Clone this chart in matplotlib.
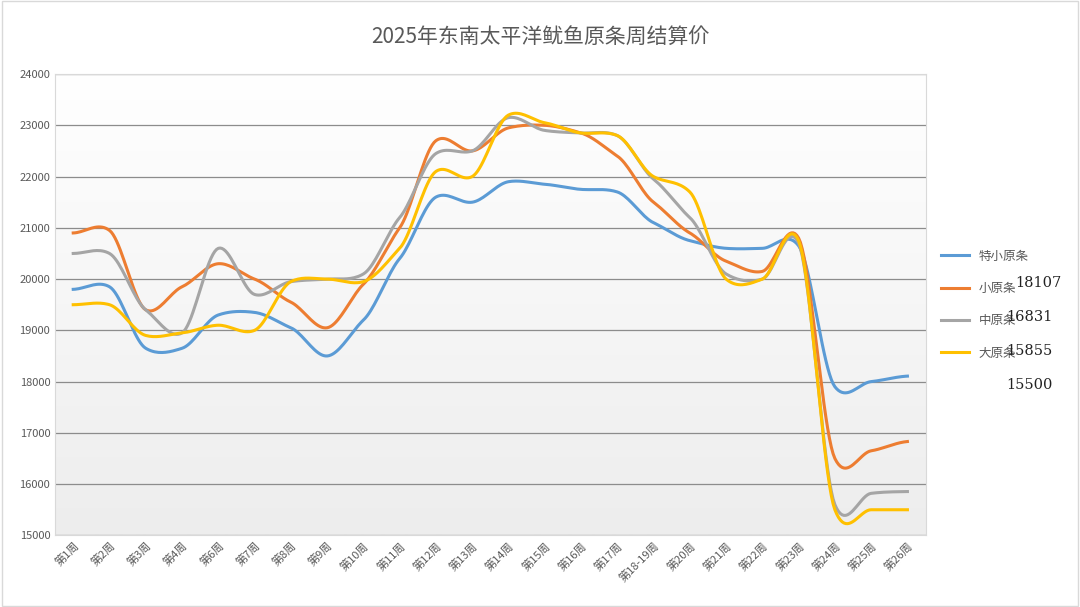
import numpy as np
import matplotlib.pyplot as plt
from matplotlib import font_manager

cjk = [f.name for f in font_manager.fontManager.ttflist if "CJK" in f.name]
plt.rcParams["font.family"] = ["Noto Sans CJK SC", "Noto Sans CJK JP"] + cjk + ["DejaVu Sans"]

weeks = ["第1周", "第2周", "第3周", "第4周", "第6周", "第7周", "第8周", "第9周", "第10周",
         "第11周", "第12周", "第13周", "第14周", "第15周", "第16周", "第17周", "第18-19周",
         "第20周", "第21周", "第22周", "第23周", "第24周", "第25周", "第26周"]
tiny = [19800, 19850, 18650, 18650, 19300, 19350, 19050, 18500, 19200, 20400, 21600, 21500,
        21900, 21850, 21750, 21700, 21100, 20750, 20600, 20600, 20650, 17900, 18000, 18107]
small = [20900, 20950, 19400, 19850, 20300, 20000, 19550, 19050, 19900, 21000, 22700, 22500,
         22950, 23000, 22850, 22400, 21500, 20900, 20350, 20150, 20800, 16500, 16650, 16831]
medium = [20500, 20500, 19400, 18950, 20600, 19700, 19950, 20000, 20100, 21200, 22450, 22500,
          23150, 22900, 22850, 22800, 21950, 21200, 20100, 20000, 20700, 15600, 15820, 15855]
large = [19500, 19500, 18900, 18950, 19100, 19000, 19950, 20000, 19950, 20600, 22100, 22000,
         23200, 23050, 22850, 22800, 22000, 21700, 20000, 20000, 20750, 15500, 15500, 15500]
names = ["特小原条", "小原条", "中原条", "大原条"]
last = ["18107", "16831", "15855", "15500"]
colors = ["#5B9BD5", "#ED7D31", "#A5A5A5", "#FFC000"]


def smooth(y, n=20, k=0.35):
    # cardinal spline, close to Excel's smoothed line
    y = np.asarray(y, float)
    p = np.concatenate([[y[0]], y, [y[-1]]])
    xs, ys = [], []
    for i in range(len(y) - 1):
        p0, p1, p2, p3 = p[i], p[i + 1], p[i + 2], p[i + 3]
        t = np.linspace(0, 1, n, endpoint=False)
        m1 = (p2 - p0) * k
        m2 = (p3 - p1) * k
        h = (2*t**3 - 3*t**2 + 1) * p1 + (t**3 - 2*t**2 + t) * m1 \
            + (-2*t**3 + 3*t**2) * p2 + (t**3 - t**2) * m2
        xs.append(i + t)
        ys.append(h)
    xs.append([len(y) - 1])
    ys.append([y[-1]])
    return np.concatenate(xs), np.concatenate(ys)


fig = plt.figure(figsize=(10.8, 6.07), dpi=100)
ax = fig.add_axes([0.051, 0.118, 0.806, 0.76])
x = np.arange(len(weeks))
ax.set_xlim(-0.5, len(weeks) - 0.5)
ax.set_ylim(15000, 24000)
grad = np.linspace(1, 0, 256).reshape(-1, 1)
ax.imshow(grad, extent=[-0.5, len(weeks) - 0.5, 15000, 24000], aspect="auto",
          cmap=plt.matplotlib.colors.LinearSegmentedColormap.from_list("g", ["#EDEDED", "#FFFFFF"]),
          zorder=0)
ax.set_yticks(range(15000, 24001, 1000))
ax.grid(axis="y", color="#8C8C8C", linewidth=0.9, zorder=1)
for s in ax.spines.values():
    s.set_color("#D9D9D9")
ax.tick_params(length=0, labelsize=8, colors="#595959")
ax.set_xticks(x)
ax.set_xticklabels(weeks, rotation=45, ha="right", rotation_mode="anchor", fontsize=8)

handles = []
for series, name, c in zip([tiny, small, medium, large], names, colors):
    sx, sy = smooth(series)
    h, = ax.plot(sx, sy, color=c, linewidth=2.2, label=name, zorder=3)
    handles.append(h)

ax.legend(handles=handles, loc="center left", bbox_to_anchor=(1.005, 0.5), frameon=False,
          fontsize=9, labelspacing=1.55, handlelength=2.2, labelcolor="#595959")
for i, v in enumerate(last):
    fig.text(0.94 if i == 0 else 0.932, 0.534 - i * 0.056, v, fontsize=10.5,
             family="DejaVu Serif", color="#222222", va="center")

fig.suptitle("2025年东南太平洋鱿鱼原条周结算价", y=0.955, fontsize=15, color="#595959")
fig.patches.append(plt.Rectangle((0.002, 0.002), 0.996, 0.996, transform=fig.transFigure,
                                 fill=False, edgecolor="#D9D9D9", linewidth=1))
fig.savefig("out.png", dpi=100)
